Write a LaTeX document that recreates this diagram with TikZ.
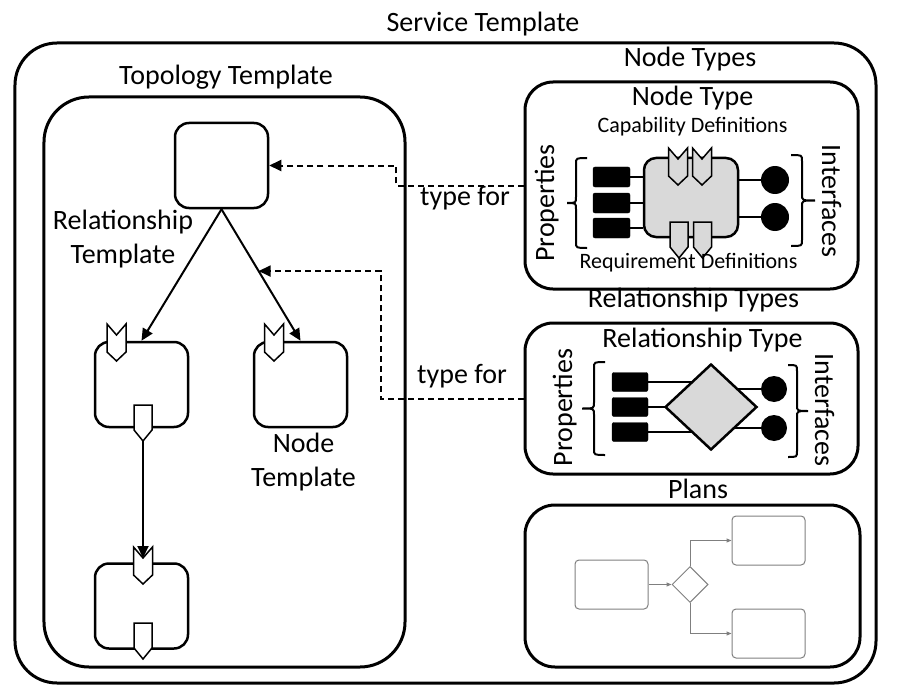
\documentclass[tikz,border=0pt]{standalone}
\usepackage{fontspec}
\setmainfont{Carlito}
\usetikzlibrary{positioning}
\usetikzlibrary{shapes.geometric}
\usetikzlibrary{arrows.meta}

\definecolor{compgray}{HTML}{D9D9D9}
\definecolor{plangray}{HTML}{7F7F7F}

% capability mark: [fill]{x}{top}{name of notch}
\newcommand{\capmark}[4][white]{%
  \draw[markline, fill=#1] (#2,#3) ++(-9.5,0) -- ++(9.5,11) -- ++(9.5,-11) -- ++(0,28) -- ++(-9.5,9) -- ++(-9.5,-9) -- cycle;
  \coordinate (#4) at (#2,#3+11);}
% requirement mark: [fill]{x}{top}{name of tip}
\newcommand{\reqmark}[4][white]{%
  \draw[markline, fill=#1] (#2,#3) ++(-9,0) -- ++(18,0) -- ++(0,25) -- ++(-9,11) -- ++(-9,-11) -- cycle;
  \coordinate (#4) at (#2,#3+36);}
% bracket: {x}{top}{bottom}{serif x}{tip x}
\newcommand{\brak}[5]{%
  \draw[brline] (#4,#2) .. controls (#1,#2) .. (#1,#2+6) -- (#1,{(#2+#3)/2-6}) .. controls (#1,{(#2+#3)/2}) .. (#5,{(#2+#3)/2}) .. controls (#1,{(#2+#3)/2}) .. (#1,{(#2+#3)/2+6}) -- (#1,#3-6) .. controls (#1,#3) .. (#4,#3);}

\begin{document}
\begin{tikzpicture}[x=1bp, y=-1bp,
    every node/.style={font=\fontsize{28bp}{33.5bp}\selectfont},
    smalltext/.style={font=\fontsize{22bp}{26bp}\selectfont},
    bigbox/.style={draw, line width=3bp, inner sep=0pt},
    tmplnode/.style={draw, line width=2.5bp, rounded corners=14bp, minimum width=93bp, minimum height=85bp, inner sep=0pt},
    relarrow/.style={line width=2bp, -{Triangle[length=12bp,width=11bp]}},
    typefor/.style={line width=2bp, dash pattern=on 6bp off 4bp, -{Triangle[length=12bp,width=11bp]}},
    markline/.style={line width=1.5bp, line join=miter},
    propbox/.style={draw, fill=black, rounded corners=2bp, minimum width=37bp, minimum height=20bp, inner sep=0pt},
    ifdot/.style={circle, fill=black, minimum size=28bp, inner sep=0pt},
    wire/.style={line width=2.5bp},
    brline/.style={line width=2bp},
    planbox/.style={draw=plangray, line width=1bp, rounded corners=4bp, minimum width=73bp, minimum height=49bp, inner sep=0pt},
    planarrow/.style={draw=plangray, line width=1bp, -{Triangle[length=5bp,width=4bp]}}]
  \useasboundingbox (0,0) rectangle (902,696);

  % frames and titles
  \node[bigbox, rounded corners=42bp, minimum width=861bp, minimum height=640bp] (stbox) at (445.5,363) {};
  \node[bigbox, rounded corners=45bp, minimum width=361bp, minimum height=570bp] (ttbox) at (224.5,382) {};
  \node[bigbox, rounded corners=28bp, minimum width=333bp, minimum height=207bp] (ntbox) at (691.5,185.5) {};
  \node[bigbox, rounded corners=28bp, minimum width=333bp, minimum height=151bp] (rtbox) at (691.5,398.5) {};
  \node[bigbox, rounded corners=30bp, minimum width=335bp, minimum height=162bp] (plbox) at (692.5,586) {};
  \node[anchor=base] (sttitle) at (483,32) {Service Template};
  \node[anchor=base] (tttitle) at (226,85) {Topology Template};
  \node[anchor=base] (nttitle) at (690,67) {Node Types};
  \node[anchor=base] (rttitle) at (693.5,307) {Relationship Types};
  \node[anchor=base] (pltitle) at (698,498) {Plans};

  % topology template
  \node[tmplnode] (tnode) at (221.5,165.5) {};
  \node[tmplnode] (lnode) at (141.5,384.5) {};
  \node[tmplnode] (rnode) at (300.5,384.5) {};
  \node[tmplnode] (bnode) at (141.5,606) {};
  \capmark{116.5}{324}{lcap}
  \capmark{274}{324}{rcap}
  \reqmark{143}{405}{lreq}
  \capmark{143}{547}{bcap}
  \reqmark{143}{623}{breq}
  \draw[relarrow] (tnode.south) -- (lnode.north);
  \draw[relarrow] (tnode.south) -- coordinate[pos=0.47] (relhit) (rnode.north);
  \draw[relarrow] (lreq) -- (bcap);
  \node[align=center] (rtmpl) at (123,239) {Relationship\\Template};
  \node[align=center] (ntmpl) at (303.5,462) {Node\\Template};

  % node type
  \node[anchor=base] (ntlabel) at (692.5,106) {Node Type};
  \node[draw, line width=2.5bp, fill=compgray, rounded corners=12bp, minimum width=94bp, minimum height=79bp, inner sep=0pt] (ntcomp) at (691,197.5) {};
  \foreach \y [count=\i] in {177,203,228} {
    \node[propbox] (np\i) at (611.5,\y) {};
    \draw[wire] (np\i.east) -- (np\i.east -| ntcomp.west);
  }
  \node[ifdot] (ni1) at (775,180) {};
  \node[ifdot] (ni2) at (775,217) {};
  \draw[wire] (ntcomp.east |- ni1) -- (ni1);
  \draw[wire] (ntcomp.east |- ni2) -- (ni2);
  \capmark[compgray]{678}{148}{ncap1}
  \capmark[compgray]{702}{148}{ncap2}
  \reqmark[compgray]{679}{222}{nreq1}
  \reqmark[compgray]{702.5}{222}{nreq2}
  \brak{576}{158}{248}{587}{567}
  \brak{802}{155}{246}{791}{815}
  \node[smalltext, anchor=base] (capdefs) at (692.5,133) {Capability Definitions};
  \node[smalltext, anchor=base] (reqdefs) at (688.5,268) {Requirement Definitions};
  \node[rotate=90, anchor=base] (ntprops) at (554,203) {Properties};
  \node[rotate=-90, anchor=base] (ntifaces) at (822,201) {Interfaces};

  % relationship type
  \node[anchor=base] (rtlabel) at (702.5,347) {Relationship Type};
  \coordinate (rtmid) at (711,407);
  \foreach \y [count=\i] in {382,407,432} {
    \node[propbox, minimum width=36bp, minimum height=19bp] (rp\i) at (630,\y) {};
    \draw[wire] (rp\i.east) -- (rp\i.east -| rtmid);
  }
  \node[ifdot, minimum size=26bp] (ri1) at (774,389) {};
  \node[ifdot, minimum size=26bp] (ri2) at (774,428) {};
  \draw[wire] (rtmid |- ri1) -- (ri1);
  \draw[wire] (rtmid |- ri2) -- (ri2);
  \node[diamond, draw, line width=2.5bp, fill=compgray, minimum width=92bp, minimum height=86bp, inner sep=0pt] (rtdiam) at (rtmid) {};
  \brak{594}{362}{455}{605}{582}
  \brak{797}{365}{457}{788}{808}
  \node[rotate=90, anchor=base] (rtprops) at (572,407.5) {Properties};
  \node[rotate=-90, anchor=base] (rtifaces) at (815,410) {Interfaces};

  % plans
  \node[planbox] (pstart) at (611.5,584.5) {};
  \node[diamond, draw=plangray, line width=1bp, minimum width=36bp, minimum height=36bp, inner sep=0pt] (pdec) at (690,584.5) {};
  \node[planbox] (ptop) at (768.5,540.5) {};
  \node[planbox] (pbot) at (768.5,633.5) {};
  \draw[planarrow] (pstart.east) -- (pdec.west);
  \draw[planarrow] (pdec.north) |- (ptop.west);
  \draw[planarrow] (pdec.south) |- (pbot.west);

  % type for links
  \draw[typefor] (ntbox.west) -- ++(-128,0) |- (tnode.east);
  \draw[typefor] (rtbox.west) -- ++(-143,0) |- (relhit);
  \node[anchor=base] (tf1) at (465,205) {type for};
  \node[anchor=base] (tf2) at (462,383) {type for};
\end{tikzpicture}
\end{document}
